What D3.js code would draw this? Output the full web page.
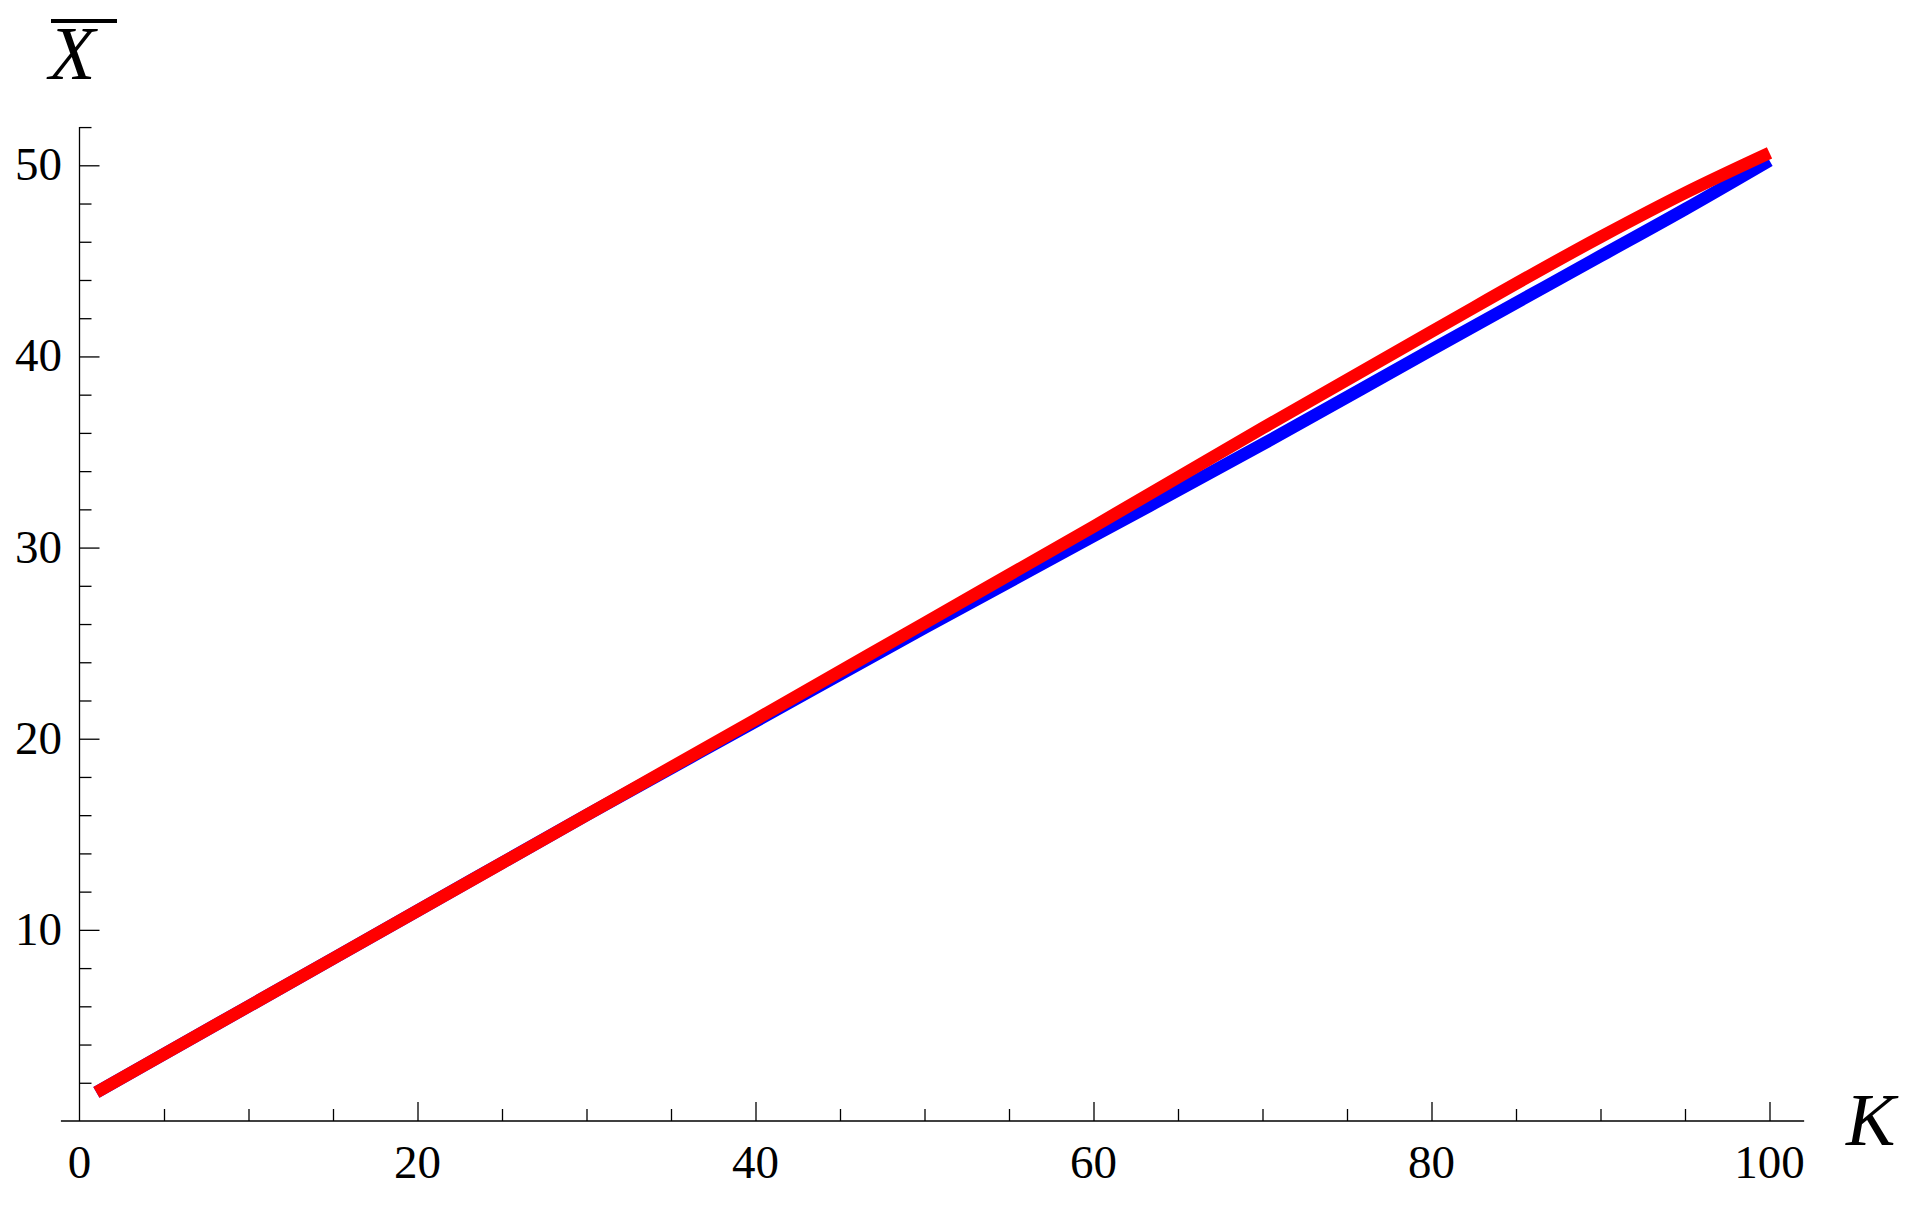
<!DOCTYPE html>
<html>
<head>
<meta charset="utf-8">
<script src="https://cdn.jsdelivr.net/npm/d3@7"></script>
<style>
    body { margin: 0; background: #fff; }
    svg { display: block; }
</style>
</head>
<body>
<div id="chart"></div>
<script>
const kValues = [1, 10, 20, 30, 40, 50, 60, 70, 80, 90, 95, 100];
// blue series
const blueValues = [1.5, 6.0, 11.0, 16.0, 20.9, 25.8, 30.6, 35.4, 40.35, 45.25, 47.7, 50.25];
// red series
const redValues = [1.5, 6.0, 11.0, 16.0, 21.0, 26.05, 31.1, 36.25, 41.3, 46.25, 48.55, 50.65];

const xTickLabels = [0, 20, 40, 60, 80, 100];
const yTickLabels = [10, 20, 30, 40, 50];

function drawChart() {
    const svgWidth = 1931;
    const svgHeight = 1209;

    const svg = d3.select('#chart').append('svg')
        .attr('width', svgWidth)
        .attr('height', svgHeight);

    // scales
    const xScale = d3.scaleLinear()
        .domain([0, 100])
        .range([79.5, 1769.5]);

    const yScale = d3.scaleLinear()
        .domain([0, 50])
        .range([1121, 165.3]);

    const font = '"Liberation Serif", "Times New Roman", serif';

    // x axis: minor ticks every 5, major every 20
    const xMinor = d3.range(5, 101, 5).filter(d => d % 20 !== 0);
    svg.append('g')
        .attr('transform', `translate(0, ${yScale(0)})`)
        .call(d3.axisBottom(xScale).tickValues(xMinor).tickSize(-12).tickFormat(''))
        .call(g => g.select('.domain').remove());

    svg.append('g')
        .attr('transform', `translate(0, ${yScale(0)})`)
        .call(d3.axisBottom(xScale).tickValues(xTickLabels.filter(d => d > 0)).tickSize(-19).tickFormat(''))
        .call(g => g.select('.domain').remove());

    svg.append('line')
        .attr('x1', xScale(-1.1))
        .attr('x2', xScale(102.05))
        .attr('y1', yScale(0))
        .attr('y2', yScale(0))
        .attr('stroke', '#000')
        .attr('stroke-width', 1.3);

    svg.append('g')
        .selectAll('text')
        .data(xTickLabels)
        .join('text')
        .attr('x', d => xScale(d))
        .attr('y', 1178)
        .attr('text-anchor', 'middle')
        .attr('font-family', font)
        .attr('font-size', 47)
        .text(d => d);

    // y axis: minor ticks every 2, major every 10
    const yMinor = d3.range(2, 53, 2).filter(d => d % 10 !== 0);
    svg.append('g')
        .attr('transform', `translate(${xScale(0)}, 0)`)
        .call(d3.axisLeft(yScale).tickValues(yMinor).tickSize(-12).tickFormat(''))
        .call(g => g.select('.domain').remove());

    svg.append('g')
        .attr('transform', `translate(${xScale(0)}, 0)`)
        .call(d3.axisLeft(yScale).tickValues(yTickLabels).tickSize(-20).tickFormat(''))
        .call(g => g.select('.domain').remove());

    svg.append('line')
        .attr('x1', xScale(0))
        .attr('x2', xScale(0))
        .attr('y1', yScale(0))
        .attr('y2', yScale(52))
        .attr('stroke', '#000')
        .attr('stroke-width', 1.3);

    svg.selectAll('.tick line')
        .attr('stroke', '#000')
        .attr('stroke-width', 1.3);

    svg.append('g')
        .selectAll('text')
        .data(yTickLabels)
        .join('text')
        .attr('x', 62)
        .attr('y', d => yScale(d) + 15)
        .attr('text-anchor', 'end')
        .attr('font-family', font)
        .attr('font-size', 47)
        .text(d => d);

    // curves
    const line = (values) => d3.line()
        .x((d, i) => xScale(kValues[i]))
        .y(d => yScale(d))
        .curve(d3.curveMonotoneX)(values);

    svg.append('path')
        .attr('d', line(blueValues))
        .attr('fill', 'none')
        .attr('stroke', '#0000ff')
        .attr('stroke-width', 12.5);

    svg.append('path')
        .attr('d', line(redValues))
        .attr('fill', 'none')
        .attr('stroke', '#ff0000')
        .attr('stroke-width', 12.5);

    // axis titles
    svg.append('text')
        .attr('x', 1846)
        .attr('y', 1145)
        .attr('font-family', font)
        .attr('font-style', 'italic')
        .attr('font-size', 74)
        .text('K');

    svg.append('text')
        .attr('x', 49)
        .attr('y', 79)
        .attr('font-family', font)
        .attr('font-style', 'italic')
        .attr('font-size', 76)
        .text('X');

    svg.append('line')
        .attr('x1', 51)
        .attr('x2', 117)
        .attr('y1', 21)
        .attr('y2', 21)
        .attr('stroke', '#000')
        .attr('stroke-width', 4);
}

drawChart();
</script>
</body>
</html>
